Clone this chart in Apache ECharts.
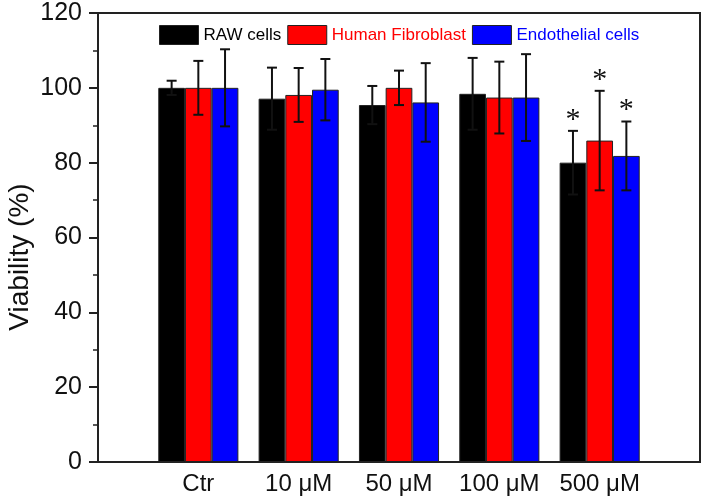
<!DOCTYPE html>
<html>
<head>
<meta charset="utf-8">
<script src="https://cdn.jsdelivr.net/npm/echarts@6/dist/echarts.min.js"></script>
<style>html,body{margin:0;padding:0;background:#fff;}#c{width:705px;height:499px;}</style>
</head>
<body>
<div id="c"></div>
<script>
// ---- data ----
var categories = ['', 'Ctr', '10 μM', '50 μM', '100 μM', '500 μM', ''];
var seriesNames = ['RAW cells', 'Human Fibroblast', 'Endothelial cells'];
var rawMean = [100, 97.1, 95.4, 98.4, 80.0];
var rawErr = [1.9, 8.3, 5.1, 9.6, 8.5];
var fibMean = [100, 98.1, 100, 97.4, 85.9];
var fibErr = [7.2, 7.2, 4.6, 9.6, 13.3];
var endoMean = [100, 99.5, 96.1, 97.4, 81.8];
var endoErr = [10.3, 8.2, 10.5, 11.6, 9.2];
var significant = [false, false, false, false, true];
var yTicks = [0, 20, 40, 60, 80, 100, 120];
var yTitle = 'Viability (%)';

var colors = ['#000000', '#ff0000', '#0000ff'];
var means = [rawMean, fibMean, endoMean];
var errs = [rawErr, fibErr, endoErr];
var BAR_W = 26.7;
var FONT = "'Liberation Sans', Arial, sans-serif";

var series = [];
means.forEach(function (m, si) {
  series.push({
    name: seriesNames[si],
    type: 'bar',
    barWidth: BAR_W,
    barGap: '0%',
    data: [null].concat(m).concat([null]),
    itemStyle: { color: colors[si], borderColor: '#222', borderWidth: 1 },
    z: 2
  });
});
means.forEach(function (m, si) {
  var d = m.map(function (v, i) {
    return [i + 1, v - errs[si][i], v + errs[si][i], significant[i] ? 1 : 0];
  });
  series.push({
    type: 'custom',
    name: 'err' + si,
    z: 5,
    silent: true,
    data: d,
    renderItem: function (params, api) {
      var x = api.value(0), lo = api.value(1), hi = api.value(2), sig = api.value(3);
      var pHi = api.coord([x, hi]);
      var pLo = api.coord([x, lo]);
      var off = (si - 1) * BAR_W;
      var cx = pHi[0] + off;
      var cap = 5;
      var st = { stroke: '#111', lineWidth: 2 };
      var ch = [
        { type: 'line', shape: { x1: cx, y1: pHi[1], x2: cx, y2: pLo[1] }, style: st },
        { type: 'line', shape: { x1: cx - cap, y1: pHi[1], x2: cx + cap, y2: pHi[1] }, style: st },
        { type: 'line', shape: { x1: cx - cap, y1: pLo[1], x2: cx + cap, y2: pLo[1] }, style: st }
      ];
      if (sig) {
        ch.push({
          type: 'text',
          style: {
            text: '*', x: cx, y: pHi[1] + 4,
            fill: '#111', font: "30px 'Liberation Serif', 'Times New Roman', serif",
            align: 'center', verticalAlign: 'bottom'
          }
        });
      }
      return { type: 'group', children: ch };
    }
  });
});

var chart = echarts.init(document.getElementById('c'), null, { renderer: 'canvas' });
chart.setOption({
  animation: false,
  backgroundColor: '#fff',
  grid: {
    left: 98, right: 5, top: 13, bottom: 37,
    containLabel: false, outerBoundsMode: 'none',
    show: true, borderColor: '#222', borderWidth: 2, backgroundColor: 'transparent'
  },
  graphic: [{
    type: 'text',
    x: 20, y: 257,
    rotation: Math.PI / 2,
    style: {
      text: yTitle, fill: '#111',
      font: "28px 'Liberation Sans', Arial, sans-serif",
      align: 'center', verticalAlign: 'middle'
    }
  }],
  legend: {
    left: 159, top: 25, padding: 0,
    itemWidth: 39, itemHeight: 19, itemGap: 6,
    icon: 'rect',
    itemStyle: { borderColor: '#222', borderWidth: 1 },
    textStyle: { fontFamily: FONT, fontSize: 17 },
    data: [
      { name: seriesNames[0], textStyle: { color: colors[0] } },
      { name: seriesNames[1], textStyle: { color: colors[1] } },
      { name: seriesNames[2], textStyle: { color: colors[2] } }
    ]
  },
  xAxis: {
    type: 'category',
    data: categories,
    boundaryGap: false,
    axisLine: { lineStyle: { color: '#222', width: 2 } },
    axisTick: { show: false },
    axisLabel: { color: '#111', fontFamily: FONT, fontSize: 24, margin: 10, interval: 0 },
    splitLine: { show: false }
  },
  yAxis: {
    type: 'value',
    min: 0, max: 120, interval: 20,
    axisLine: { show: true, lineStyle: { color: '#222', width: 2 } },
    axisTick: { show: true, inside: false, length: 9, lineStyle: { color: '#222', width: 2 } },
    minorTick: { show: true, splitNumber: 2, length: 5, lineStyle: { color: '#222', width: 1.5 } },
    axisLabel: {
      color: '#111', fontFamily: FONT, fontSize: 25, margin: 16,
      formatter: function (v) { return yTicks.indexOf(v) >= 0 ? String(v) : ''; }
    },
    splitLine: { show: false }
  },
  series: series
});
</script>
</body>
</html>
